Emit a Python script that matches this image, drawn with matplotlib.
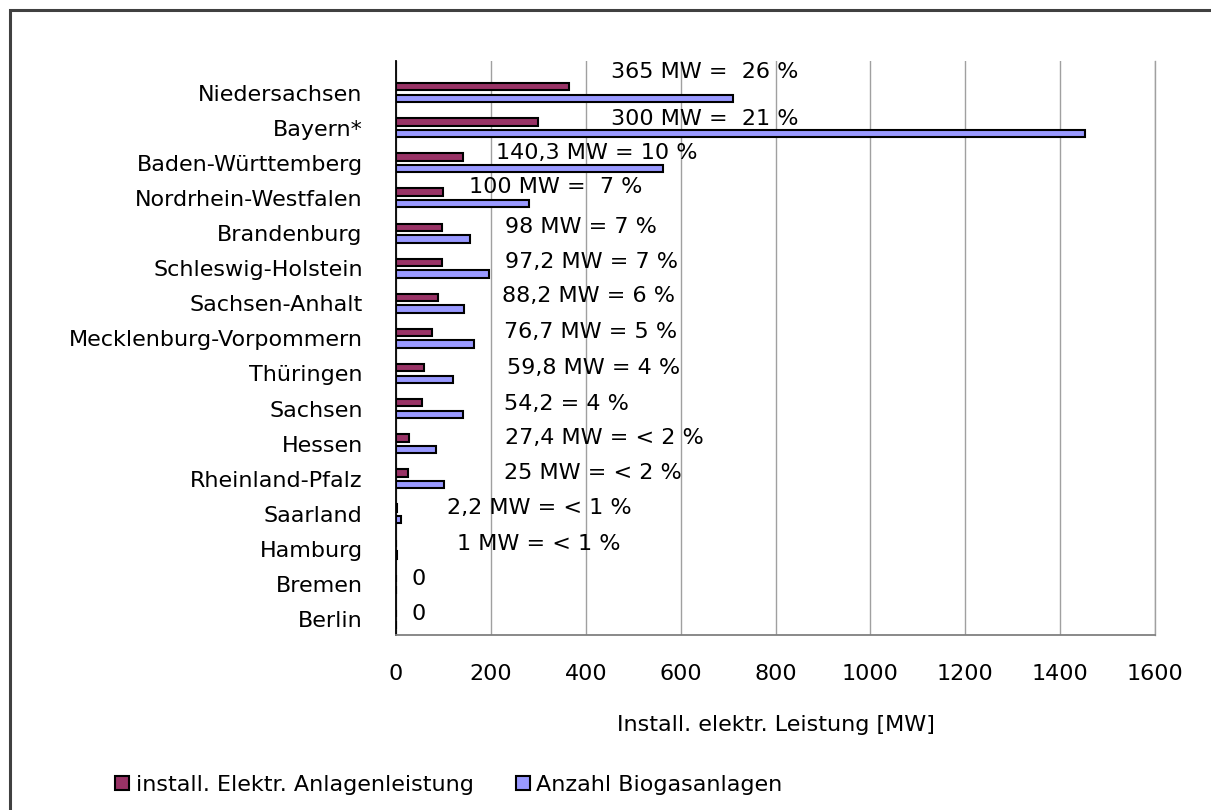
import numpy as np
import matplotlib
matplotlib.use("Agg")
import matplotlib.pyplot as plt
from matplotlib.patches import Patch, Rectangle

# data (top to bottom as in the chart)
laender = ['Niedersachsen', 'Bayern*', 'Baden-Württemberg', 'Nordrhein-Westfalen',
           'Brandenburg', 'Schleswig-Holstein', 'Sachsen-Anhalt',
           'Mecklenburg-Vorpommern', 'Thüringen', 'Sachsen', 'Hessen',
           'Rheinland-Pfalz', 'Saarland', 'Hamburg', 'Bremen', 'Berlin']
leistung_mw = [365, 300, 140.3, 100, 98, 97.2, 88.2, 76.7, 59.8, 54.2, 27.4, 25, 2.2, 1, 0, 0]
anzahl_anlagen = [711, 1453, 562, 281, 156, 196, 144, 165, 120, 141, 84, 102, 10, 3, 0, 0]
beschriftung = ['365 MW =  26 %', '300 MW =  21 %', '140,3 MW = 10 %', '100 MW =  7 %',
                '98 MW = 7 %', '97,2 MW = 7 %', '88,2 MW = 6 %', '76,7 MW = 5 %',
                '59,8 MW = 4 %', '54,2 = 4 %', '27,4 MW = < 2 %', '25 MW = < 2 %',
                '2,2 MW = < 1 %', '1 MW = < 1 %', '0', '0']
xticks = [0, 200, 400, 600, 800, 1000, 1200, 1400, 1600]

# label placement (manually moved labels in the original)
label_x = [453, 453, 210, 153, 230, 229, 223, 228, 234, 228, 230, 228, 107, 128, 33, 33]
label_dy = [0.59, 0.24, 0.28, 0.31, 0.18, 0.18, 0.2, 0.19, 0.17, 0.13, 0.17, 0.17, 0.17, 0.15, 0.16, 0.16]

rot = '#993366'
blau = '#9999FF'
fs = 16

plt.rcParams['font.family'] = ['DejaVu Sans']
fig = plt.figure(figsize=(12.11, 8.10), dpi=100)
ax = fig.add_axes([0.327, 0.216, 0.9538 - 0.327, 0.9247 - 0.216])

n = len(laender)
y = np.arange(n)[::-1]
h = 0.21
ax.barh(y + 0.165, leistung_mw, height=h, color=rot, edgecolor='black', linewidth=1.5, zorder=3)
ax.barh(y - 0.165, anzahl_anlagen, height=h, color=blau, edgecolor='black', linewidth=1.5, zorder=3)

for i in range(n):
    ax.text(label_x[i], y[i] + label_dy[i], beschriftung[i], fontsize=fs,
            ha='left', va='center', zorder=4)

ax.set_xlim(0, 1600)
ax.set_ylim(-0.45, n - 0.1)
ax.set_xticks(xticks)
ax.set_xticklabels([str(t) for t in xticks], fontsize=fs)
ax.set_yticks(y)
ax.set_yticklabels(laender, fontsize=fs)
ax.tick_params(axis='x', length=0, pad=21)
ax.tick_params(axis='y', length=0, pad=24)
ax.xaxis.grid(True, color='#a0a0a0', linewidth=1.0, zorder=0)
ax.axvline(1600, color='#a0a0a0', linewidth=1.0, zorder=0, clip_on=False)
ax.set_axisbelow(True)
for s in ['top', 'right']:
    ax.spines[s].set_visible(False)
ax.spines['left'].set_color('black')
ax.spines['left'].set_linewidth(1.3)
ax.spines['bottom'].set_color('#808080')
ax.spines['bottom'].set_linewidth(1.3)
ax.set_xlabel('Install. elektr. Leistung [MW]', fontsize=fs, labelpad=22)

handles = [Patch(facecolor=rot, edgecolor='black', linewidth=1.5),
           Patch(facecolor=blau, edgecolor='black', linewidth=1.5)]
fig.legend(handles, ['install. Elektr. Anlagenleistung', 'Anzahl Biogasanlagen'],
           loc='center left', bbox_to_anchor=(0.088, 0.031), ncol=2, frameon=False,
           fontsize=fs, handlelength=0.62, handleheight=0.62, handletextpad=0.3,
           columnspacing=1.9, borderaxespad=0)

# outer frame (only top and left visible)
fig.patches.append(Rectangle((9.5 / 1211, -0.1), 2, (800 / 810) + 0.1,
                             transform=fig.transFigure, fill=False,
                             edgecolor='#404040', linewidth=2.2))

fig.savefig('out.png', dpi=100)
